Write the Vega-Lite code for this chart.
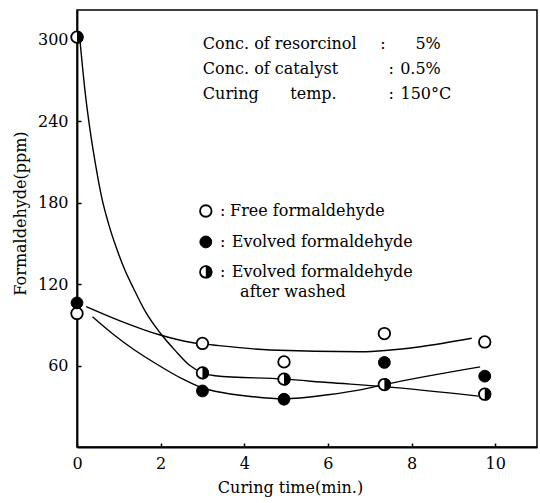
{
  "$schema": "https://vega.github.io/schema/vega-lite/v6.json",
  "width": 460,
  "height": 437,
  "autosize": "none",
  "padding": {"left": 77, "top": 10, "right": 3, "bottom": 56},
  "background": "white",
  "config": {
    "view": {"stroke": "black", "strokeWidth": 1.5},
    "font": "DejaVu Serif",
    "axis": {
      "grid": false,
      "domainColor": "black",
      "domainWidth": 1.8,
      "tickColor": "black",
      "tickSize": -4,
      "tickWidth": 1.5,
      "labelColor": "black",
      "labelFont": "DejaVu Serif",
      "labelFontSize": 16,
      "labelFlush": false,
      "labelOverlap": false,
      "titleFont": "DejaVu Serif",
      "titleFontSize": 16,
      "titleFontWeight": "normal",
      "titleColor": "black"
    }
  },
  "datasets": {
    "marks": [
      {"series": "Free formaldehyde", "kind": "open", "x": 0, "y": 98.4},
      {"series": "Free formaldehyde", "kind": "open", "x": 3, "y": 76.3},
      {"series": "Free formaldehyde", "kind": "open", "x": 4.95, "y": 62.7},
      {"series": "Free formaldehyde", "kind": "open", "x": 7.35, "y": 83.6},
      {"series": "Free formaldehyde", "kind": "open", "x": 9.75, "y": 77.4},
      {"series": "Evolved formaldehyde", "kind": "filled", "x": 0, "y": 106.2},
      {"series": "Evolved formaldehyde", "kind": "filled", "x": 3, "y": 41.3},
      {"series": "Evolved formaldehyde", "kind": "filled", "x": 4.95, "y": 35.2},
      {"series": "Evolved formaldehyde", "kind": "filled", "x": 7.35, "y": 62.3},
      {"series": "Evolved formaldehyde", "kind": "filled", "x": 9.75, "y": 52.2},
      {"series": "Evolved formaldehyde after washed", "kind": "half", "x": 0, "y": 302},
      {"series": "Evolved formaldehyde after washed", "kind": "half", "x": 3, "y": 54.6},
      {"series": "Evolved formaldehyde after washed", "kind": "half", "x": 4.95, "y": 50},
      {"series": "Evolved formaldehyde after washed", "kind": "half", "x": 7.35, "y": 46},
      {"series": "Evolved formaldehyde after washed", "kind": "half", "x": 9.75, "y": 38.9},
      {"series": "legend", "kind": "open", "x": 3.08, "y": 173.9},
      {"series": "legend", "kind": "filled", "x": 3.08, "y": 151.1},
      {"series": "legend", "kind": "half", "x": 3.08, "y": 129}
    ],
    "curves": [
      {"curve": "Free", "x": 0.22, "y": 103.5},
      {"curve": "Free", "x": 1.03, "y": 93},
      {"curve": "Free", "x": 1.99, "y": 82.5},
      {"curve": "Free", "x": 2.74, "y": 77},
      {"curve": "Free", "x": 3.25, "y": 75.2},
      {"curve": "Free", "x": 4.62, "y": 71.5},
      {"curve": "Free", "x": 6.77, "y": 70.2},
      {"curve": "Free", "x": 8.21, "y": 73.9},
      {"curve": "Free", "x": 9.44, "y": 80.1},
      {"curve": "Evolved", "x": 0.37, "y": 96},
      {"curve": "Evolved", "x": 0.85, "y": 83.5},
      {"curve": "Evolved", "x": 1.35, "y": 72},
      {"curve": "Evolved", "x": 1.99, "y": 59.5},
      {"curve": "Evolved", "x": 2.5, "y": 50.5},
      {"curve": "Evolved", "x": 3.0, "y": 43.5},
      {"curve": "Evolved", "x": 3.5, "y": 40},
      {"curve": "Evolved", "x": 4.0, "y": 37.8},
      {"curve": "Evolved", "x": 4.95, "y": 35.5},
      {"curve": "Evolved", "x": 6.0, "y": 38.5},
      {"curve": "Evolved", "x": 6.8, "y": 42.3},
      {"curve": "Evolved", "x": 7.35, "y": 46},
      {"curve": "Evolved", "x": 9.64, "y": 59},
      {"curve": "Washed", "x": 0.07, "y": 300},
      {"curve": "Washed", "x": 0.2, "y": 260},
      {"curve": "Washed", "x": 0.31, "y": 234},
      {"curve": "Washed", "x": 0.45, "y": 207},
      {"curve": "Washed", "x": 0.59, "y": 184},
      {"curve": "Washed", "x": 0.75, "y": 165},
      {"curve": "Washed", "x": 0.95, "y": 146},
      {"curve": "Washed", "x": 1.15, "y": 130},
      {"curve": "Washed", "x": 1.35, "y": 117},
      {"curve": "Washed", "x": 1.65, "y": 99},
      {"curve": "Washed", "x": 1.99, "y": 84},
      {"curve": "Washed", "x": 2.35, "y": 71},
      {"curve": "Washed", "x": 2.7, "y": 60},
      {"curve": "Washed", "x": 3.0, "y": 54.6},
      {"curve": "Washed", "x": 3.3, "y": 52.5},
      {"curve": "Washed", "x": 4.95, "y": 50},
      {"curve": "Washed", "x": 6.0, "y": 47.5},
      {"curve": "Washed", "x": 7.35, "y": 44.5},
      {"curve": "Washed", "x": 9.6, "y": 37.5}
    ],
    "notes": [
      {"text": "Conc. of resorcinol", "part": "label", "x": 3.01, "y": 297},
      {"text": ":", "part": "label", "x": 7.25, "y": 297},
      {"text": "5%", "part": "value", "x": 8.7, "y": 297},
      {"text": "Conc. of catalyst", "part": "label", "x": 3.01, "y": 278.6},
      {"text": ":", "part": "label", "x": 7.45, "y": 278.6},
      {"text": "0.5%", "part": "value", "x": 8.7, "y": 278.6},
      {"text": "Curing", "part": "label", "x": 3.01, "y": 260},
      {"text": "temp.", "part": "label", "x": 5.1, "y": 260},
      {"text": ":", "part": "label", "x": 7.45, "y": 260},
      {"text": "150°C", "part": "value", "x": 8.95, "y": 260},
      {"text": ":", "part": "label", "x": 3.42, "y": 173.9},
      {"text": "Free formaldehyde", "part": "label", "x": 3.66, "y": 173.9},
      {"text": ":", "part": "label", "x": 3.42, "y": 151.1},
      {"text": "Evolved formaldehyde", "part": "label", "x": 3.7, "y": 151.1},
      {"text": ":", "part": "label", "x": 3.42, "y": 129},
      {"text": "Evolved formaldehyde", "part": "label", "x": 3.7, "y": 129},
      {"text": "after washed", "part": "label", "x": 3.9, "y": 114.2}
    ]
  },
  "encoding": {
    "x": {
      "field": "x",
      "type": "quantitative",
      "scale": {"domain": [0, 11], "nice": false, "zero": false},
      "axis": {
        "values": [0, 2, 4, 6, 8, 10],
        "title": "Curing time(min.)",
        "labelPadding": 12,
        "titleX": 213,
        "titleY": 45,
        "titleBaseline": "alphabetic"
      }
    },
    "y": {
      "field": "y",
      "type": "quantitative",
      "scale": {"domain": [0, 322], "nice": false, "zero": false},
      "axis": {
        "values": [60, 120, 180, 240, 300],
        "title": "Formaldehyde(ppm)",
        "labelPadding": 13,
        "titleX": -57,
        "titleY": 203,
        "titleBaseline": "middle"
      }
    }
  },
  "layer": [
    {
      "data": {"name": "curves"},
      "mark": {"type": "line", "interpolate": "monotone", "color": "black", "strokeWidth": 1.4},
      "encoding": {"detail": {"field": "curve", "type": "nominal"}}
    },
    {
      "data": {"name": "marks"},
      "transform": [{"filter": "datum.kind === 'open' || datum.kind === 'half'"}],
      "mark": {"type": "point", "shape": "circle", "filled": true, "fill": "white", "stroke": "black", "strokeWidth": 1.8, "size": 133, "opacity": 1}
    },
    {
      "data": {"name": "marks"},
      "transform": [{"filter": "datum.kind === 'filled'"}],
      "mark": {"type": "point", "shape": "circle", "filled": true, "fill": "black", "stroke": "black", "strokeWidth": 1, "size": 140, "opacity": 1}
    },
    {
      "data": {"name": "marks"},
      "transform": [{"filter": "datum.kind === 'half'"}],
      "mark": {"type": "point", "shape": "M0,-1A1,1 0 0,1 0,1Z", "filled": true, "fill": "black", "strokeWidth": 0, "size": 169, "opacity": 1}
    },
    {
      "data": {"name": "notes"},
      "transform": [{"filter": "datum.part === 'label'"}],
      "mark": {"type": "text", "align": "left", "baseline": "middle", "font": "DejaVu Serif", "fontSize": 16, "color": "black"},
      "encoding": {"text": {"field": "text", "type": "nominal"}}
    },
    {
      "data": {"name": "notes"},
      "transform": [{"filter": "datum.part === 'value'"}],
      "mark": {"type": "text", "align": "right", "baseline": "middle", "font": "DejaVu Serif", "fontSize": 16, "color": "black"},
      "encoding": {"text": {"field": "text", "type": "nominal"}}
    }
  ]
}
